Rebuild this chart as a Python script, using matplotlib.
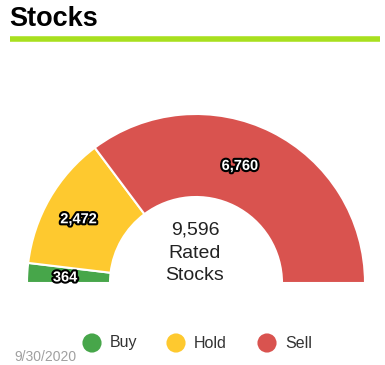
import numpy as np
import matplotlib
matplotlib.use("Agg")
import matplotlib.pyplot as plt
import matplotlib.patheffects as pe

categories = ["Buy", "Hold", "Sell"]
values = [364, 2472, 6760]
colors = ["#47a64a", "#fec92f", "#d9534f"]
title = "Stocks"
center_caption = ["Rated", "Stocks"]
date_label = "9/30/2020"

plt.rcParams['font.family'] = ['Liberation Sans', 'DejaVu Sans']

W, H = 385, 365
fig = plt.figure(figsize=(W / 100, H / 100), dpi=100)
ax = fig.add_axes([0, 0, 1, 1])

total = sum(values)
cx, cy = 196, H - 283
r_out, r_in = 169, 86

wedges, _ = ax.pie(values + [total], colors=colors + ["none"], startangle=180,
                   counterclock=False, radius=r_out, center=(cx, cy),
                   wedgeprops=dict(width=r_out - r_in, edgecolor="white", linewidth=1.5))
wedges[-1].set_edgecolor("none")

ax.set_xlim(0, W)
ax.set_ylim(0, H)
ax.set_aspect("equal")
ax.axis("off")

label_r = [0.775, 0.79, 0.74]
label_shift = [1.0, 1.5, 6.0]
for w, v, lr, sh in zip(wedges[:3], values, label_r, label_shift):
    mid = np.deg2rad((w.theta1 + w.theta2) / 2 + sh)
    x = cx + lr * r_out * np.cos(mid)
    y = cy + lr * r_out * np.sin(mid)
    ax.text(x, y, f"{v:,}", ha="center", va="center", fontsize=10.5, fontweight="bold",
            color="white", path_effects=[pe.withStroke(linewidth=3, foreground="black")])

ax.text(cx - 1, H - 230, f"{total:,}", ha="center", va="center", fontsize=14, color="#222222")
ax.text(cx - 1, H - 253, center_caption[0], ha="center", va="center", fontsize=14, color="#222222")
ax.text(cx - 1, H - 276, center_caption[1], ha="center", va="center", fontsize=14, color="#222222")

# title and rule
ax.text(9, H - 19, title, ha="left", va="center", fontsize=19.5, fontweight="bold", color="black")
ax.plot([10, 380], [H - 38.5, H - 38.5], color="#a8e01e", linewidth=4, solid_capstyle="butt")

# legend
leg_x = [92, 176, 267]
for c, lab, lx in zip(colors, categories, leg_x):
    ax.scatter([lx], [H - 343], s=190, color=c, edgecolors="none")
    ax.text(lx + 18, H - 343, lab, ha="left", va="center", fontsize=11.5, color="#333333")

ax.text(14, H - 357, date_label, ha="left", va="center", fontsize=10, color="#a0a0a0")

fig.savefig("out.png", dpi=100)
